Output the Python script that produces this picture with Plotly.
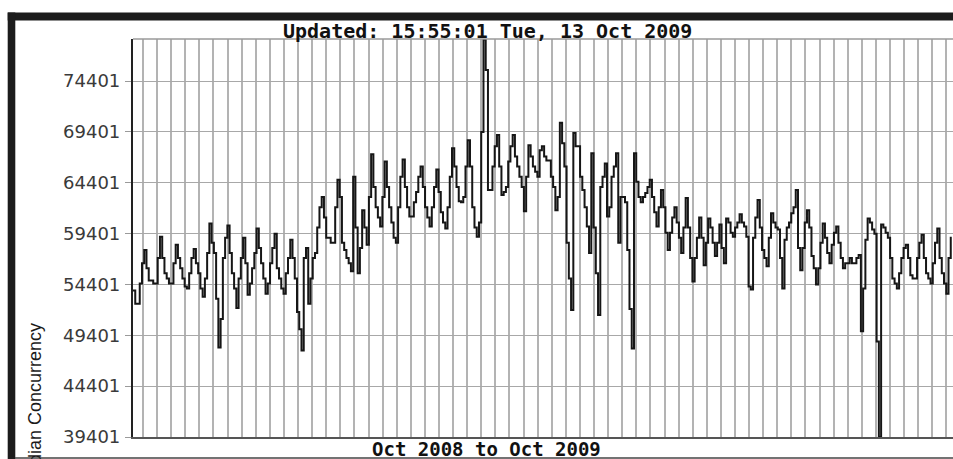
import plotly.graph_objects as go

# ---------------- data (daily median concurrency, Oct 2008 -> Oct 2009) ----------------
title_text = "Updated: 15:55:01 Tue, 13 Oct 2009"
x_caption = "Oct 2008 to Oct 2009"
y_title = "Median Concurrency"

tick_values = [39401, 44401, 49401, 54401, 59401, 64401, 69401, 74401]
tick_labels = ["39401", "44401", "49401", "54401", "59401", "64401", "69401", "74401"]

concurrency = [
    53800, 52500, 52500, 54500, 56500, 57800, 56000,
    54800, 54800, 54500, 54500, 57000, 59100, 57000,
    55500, 55000, 54500, 54500, 56500, 58300, 57000,
    56000, 55000, 54200, 54000, 55500, 57000, 57900,
    56500, 55500, 54000, 53200, 55000, 57500, 60400,
    58500, 57500, 53000, 48200, 51000, 57000, 59000,
    60200, 57500, 55500, 54000, 52100, 55000, 57000,
    59000, 56500, 53400, 54500, 56000, 57500, 59900,
    58000, 56500, 55000, 53500, 54500, 56500, 58000,
    59400, 56000, 55000, 54000, 53500, 55500, 57000,
    58800, 57000, 55000, 51700, 50000, 47900, 57000,
    58000, 52500, 55000, 57000, 57500, 60000, 62000,
    63000, 61000, 59000, 59000, 58500, 58500, 62000,
    64700, 63000, 58500, 57800, 57000, 56500, 55700,
    65000, 60000, 55500, 58000, 61700, 60000, 58300,
    63000, 67200, 64000, 62000, 61000, 60100, 63000,
    66500, 64000, 62000, 60500, 59000, 58500, 62000,
    65000, 66700, 64000, 62000, 61100, 61100, 62500,
    63500, 65000, 66000, 64000, 62000, 61000, 60100,
    62000, 64000, 65700, 63500, 61500, 60500, 59900,
    62000, 65000, 67800, 66000, 64000, 62600, 62500,
    63000, 66000, 68600, 66000, 62000, 60000, 59100,
    60500, 69400, 78500, 75500, 63700, 63700, 66000,
    68000, 69100, 66000, 63200, 63500, 64000, 66500,
    68000, 69100, 67000, 66000, 65000, 64000, 61600,
    65000, 68100, 67000, 66000, 65500, 65000, 67600,
    68000, 67000, 66600, 66600, 65000, 64000, 61700,
    63000, 70300, 68300, 66000, 58500, 55000, 51900,
    69300, 68000, 68000, 65000, 63700, 62000, 60100,
    57500, 67300, 60000, 55500, 51400, 64000, 65000,
    66300, 61100, 62000, 65000, 66000, 67300, 58500,
    63000, 63000, 62500, 57800, 52000, 48100, 67300,
    64500, 63000, 62500, 63000, 63400, 64000, 64700,
    63000, 61500, 60100, 62000, 63700, 62000, 59500,
    57800, 59500, 61000, 62000, 60500, 59000, 57500,
    60000, 62900, 60000, 57000, 54700, 57000, 59000,
    61000, 59000, 56300, 58500, 60900, 60000, 58500,
    57200, 58500, 60300, 58000, 56500, 60900, 60500,
    59500, 59100, 60000, 60500, 61300, 60500, 60100,
    59100, 54200, 53900, 59000, 61000, 62700, 60000,
    57800, 57000, 56200, 59000, 61400, 60500, 60000,
    59800, 57000, 54000, 58800, 60000, 60500, 61400,
    62000, 63700, 58000, 55800, 58000, 60500, 61700,
    60000, 57200, 56000, 54400, 56000, 58500, 60400,
    59000, 57500, 56500, 58300, 59500, 60100, 58500,
    57000, 56000, 56500, 56500, 57000, 56500, 56500,
    57000, 57300, 49800, 54000, 58800, 60900, 60500,
    59800, 59400, 48800, 39401, 60300, 60000, 59500,
    59000, 57000, 55000, 54500, 54000, 55500, 57000,
    58000, 58300, 57000, 55300, 55000, 55000, 57000,
    58500, 59300, 57000, 55500, 55000, 54500, 56500,
    58500, 59900, 57000, 55500, 54500, 53500, 57000,
    59100,
]
days = list(range(len(concurrency)))

# ---------------- geometry ----------------
W, H = 953, 459
L, R, T, B = 133, 0, 39, 22
PW, PH = W - L - R, H - T - B


def px(x):
    return (x - L) / PW


def py(y):
    return (H - B - y) / PH


fig = go.Figure()
fig.add_trace(go.Scatter(
    x=days, y=concurrency, mode="lines",
    line=dict(shape="hv", color="#161616", width=2),
    hoverinfo="x+y", showlegend=False,
))

fig.update_layout(
    width=W, height=H,
    margin=dict(l=L, r=R, t=T, b=B, pad=0),
    paper_bgcolor="white", plot_bgcolor="white",
    showlegend=False,
    xaxis=dict(
        range=[0, 365], showticklabels=False, ticks="",
        showgrid=True, gridcolor="#b3b3b3", gridwidth=2,
        tick0=4.45, dtick=6.274, zeroline=False,
        showline=True, linecolor="#555555", linewidth=1.5,
        mirror=False,
    ),
    yaxis=dict(
        range=[39401, 78547], tickvals=tick_values, ticktext=tick_labels,
        ticks="outside", ticklen=6, tickcolor="#9a9a9a", tickwidth=1,
        showgrid=True, gridcolor="#a8a8a8", gridwidth=1.2, zeroline=False,
        showline=True, linecolor="#222222", linewidth=2.2,
        tickfont=dict(family="DejaVu Sans", size=18, color="#3a3a3a"),
        ticklabelstandoff=1,
    ),
    font=dict(family="DejaVu Sans"),
)

shapes = []
# plot top border
shapes.append(dict(type="line", xref="paper", yref="paper", x0=0, x1=1, y0=1, y1=1,
                   line=dict(color="#9a9a9a", width=1.3)))
# outer black frame: top band, left band, bottom thin line
shapes.append(dict(type="rect", xref="paper", yref="paper", x0=px(7.7), x1=px(960),
                   y0=py(20.5), y1=py(12.5), fillcolor="#1c1c1c", line=dict(width=0), layer="above"))
shapes.append(dict(type="rect", xref="paper", yref="paper", x0=px(7.7), x1=px(15.3),
                   y0=py(470), y1=py(12.5), fillcolor="#1c1c1c", line=dict(width=0), layer="above"))
shapes.append(dict(type="line", xref="paper", yref="paper", x0=px(15), x1=px(960),
                   y0=py(458), y1=py(458), line=dict(color="#444444", width=1.5)))
fig.update_layout(shapes=shapes)

annotations = [
    dict(text="<b>" + title_text + "</b>", xref="paper", yref="paper",
         x=px(487), y=py(31), xanchor="center", yanchor="middle", showarrow=False,
         font=dict(family="DejaVu Sans Mono", size=20, color="#111111")),
    dict(text="<b>" + x_caption + "</b>", xref="paper", yref="paper",
         x=px(486), y=py(449), xanchor="center", yanchor="middle", showarrow=False,
         font=dict(family="DejaVu Sans Mono", size=19, color="#111111")),
    dict(text=y_title, xref="paper", yref="paper", textangle=-90,
         x=px(35), y=py(321), xanchor="center", yanchor="top", showarrow=False,
         font=dict(family="Liberation Sans, Arial, sans-serif",
                   size=18, color="#1a1a1a")),
]
fig.update_layout(annotations=annotations)

fig.write_html("out.html", config={"displayModeBar": False},
               post_script="document.body.style.margin='0px';document.body.style.overflow='hidden';")
